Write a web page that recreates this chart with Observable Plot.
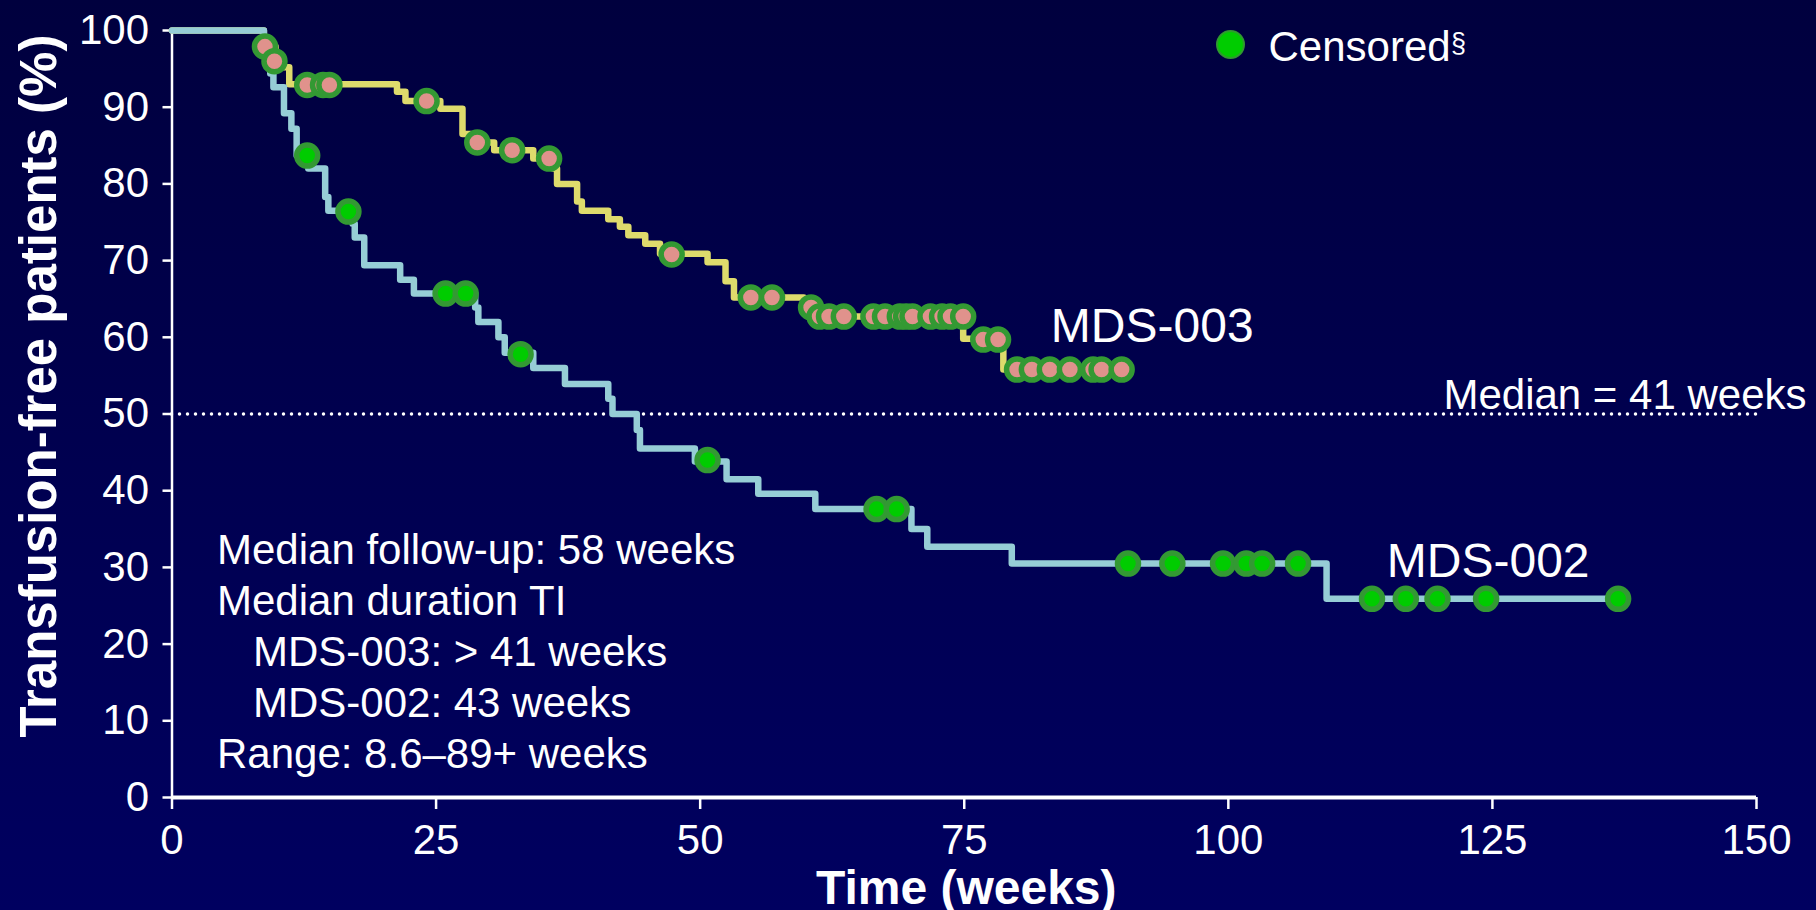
<!DOCTYPE html>
<html>
<head>
<meta charset="utf-8">
<script src="https://cdn.jsdelivr.net/npm/d3@7"></script>
<script src="https://cdn.jsdelivr.net/npm/@observablehq/plot@0.6"></script>
<style>
  html, body { margin: 0; padding: 0; overflow: hidden; background: #000050; }
  #chart svg { display: block; }
</style>
</head>
<body>
<div id="chart"></div>
<script>
// ---- Data ----
// MDS-003 Kaplan–Meier steps (weeks, % transfusion-free)
const weeks003 = [0, 8.7, 9.8, 11.1, 21.3, 22.1, 25.4, 27.5, 28.3, 30.5, 34.2, 36.1, 36.45, 38.35, 38.8, 41.3, 42.4, 43.2, 44.8, 46.2, 50.7, 52.4, 53.2, 59.8, 61.0, 74.9, 78.7, 89.9];
const pct003   = [100, 97.9, 95.2, 93.0, 92.0, 90.8, 89.8, 86.5, 85.4, 84.4, 83.3, 82.0, 80.0, 77.7, 76.5, 75.4, 74.4, 73.3, 72.2, 70.9, 69.8, 67.3, 65.2, 63.9, 62.7, 59.8, 55.8, 55.8];
// MDS-003 censored marks
const censWeeks003 = [8.8, 9.7, 12.8, 14.3, 14.9, 24.1, 28.9, 32.2, 35.7, 47.3, 54.8, 56.8, 60.5, 61.3, 62.2, 63.6, 66.4, 67.5, 68.9, 69.5, 70.1, 71.8, 72.9, 73.7, 74.9, 76.8, 78.2, 80.0, 81.4, 83.1, 85.0, 87.2, 88.0, 89.9];
const censPct003   = [97.9, 96.0, 92.9, 92.9, 92.9, 90.8, 85.4, 84.4, 83.3, 70.8, 65.2, 65.2, 63.9, 62.7, 62.7, 62.7, 62.7, 62.7, 62.7, 62.7, 62.7, 62.7, 62.7, 62.7, 62.7, 59.7, 59.7, 55.8, 55.8, 55.8, 55.8, 55.8, 55.8, 55.8];

// MDS-002 Kaplan–Meier steps
const weeks002 = [0, 8.7, 9.0, 9.3, 9.6, 10.6, 11.3, 11.8, 12.9, 14.5, 14.8, 17.1, 17.3, 18.2, 21.6, 22.9, 28.7, 29.0, 30.9, 31.5, 34.2, 37.2, 41.3, 41.7, 44.0, 44.3, 49.5, 52.5, 55.5, 60.9, 70.0, 71.5, 79.5, 109.3, 136.9];
const pct002   = [100, 98.1, 96.3, 94.4, 92.6, 89.2, 87.2, 83.7, 82.0, 78.3, 76.5, 74.8, 73.0, 69.4, 67.5, 65.7, 63.9, 62.0, 60.0, 58.0, 56.0, 53.9, 52.0, 50.0, 47.9, 45.5, 43.8, 41.5, 39.6, 37.6, 35.0, 32.7, 30.5, 25.9, 25.9];
// MDS-002 censored marks
const censWeeks002 = [12.8, 16.7, 25.9, 27.8, 33.0, 50.7, 66.7, 68.6, 90.5, 94.7, 99.5, 101.7, 103.2, 106.6, 113.6, 116.8, 119.8, 124.4, 136.9];
const censPct002   = [83.7, 76.4, 65.7, 65.7, 57.8, 44.0, 37.6, 37.6, 30.5, 30.5, 30.5, 30.5, 30.5, 30.5, 25.9, 25.9, 25.9, 25.9, 25.9];

// Axes
const xTicks = [0, 25, 50, 75, 100, 125, 150];
const yTicks = [0, 10, 20, 30, 40, 50, 60, 70, 80, 90, 100];
const xTitle = "Time (weeks)";
const yTitle = "Transfusion-free patients (%)";

// Labels / annotations
const seriesNames = ["MDS-003", "MDS-002"];
const seriesLabelWeek = [83.2, 115.0];
const seriesLabelPct = [59.4, 28.8];
const medianPct = 50;
const medianLabel = "Median = 41 weeks";
const legendLabel = "Censored";
const legendMark = "§";
const notes = ["Median follow-up: 58 weeks", "Median duration TI", "MDS-003: > 41 weeks", "MDS-002: 43 weeks", "Range: 8.6–89+ weeks"];
const noteIndent = [false, false, true, true, false];

// ---- Build tables ----
const toRows = (ws, ps) => ws.map((w, i) => ({week: w, pct: ps[i]}));
const km003 = toRows(weeks003, pct003);
const km002 = toRows(weeks002, pct002);
const c003 = toRows(censWeeks003, censPct003);
const c002 = toRows(censWeeks002, censPct002);
const labelRows = seriesNames.map((n, i) => ({name: n, week: seriesLabelWeek[i], pct: seriesLabelPct[i]}));

const W = 1816, H = 910;
const mL = 171.5, mR = 60, mT = 30, mB = 113;

const noteMarks = notes.map((t, i) =>
  Plot.text([t], {frameAnchor: "top-left", text: d => d, textAnchor: "start", lineAnchor: "bottom",
    dx: noteIndent[i] ? 81 : 45, dy: 533 + i * 51.2, fontSize: 42, fill: "white"})
);

const chart = Plot.plot({
  width: W,
  height: H,
  marginLeft: mL,
  marginRight: mR,
  marginTop: mT,
  marginBottom: mB,
  x: {domain: [0, 150]},
  y: {domain: [0, 100]},
  style: {
    background: "linear-gradient(to bottom, #00003e 0%, #00004e 45%, #000060 100%)",
    color: "white",
    fontFamily: "'Liberation Sans', Arial, sans-serif",
    fontSize: "42px"
  },
  marks: [
    // median dotted line
    Plot.ruleY([medianPct], {stroke: "white", strokeWidth: 3.5, strokeDasharray: "0 8", strokeLinecap: "round"}),
    // axes
    Plot.axisX({ticks: xTicks, tickSize: 12, tickPadding: 15, label: null, strokeWidth: 2.5, fontSize: 42}),
    Plot.axisY({ticks: yTicks, tickSize: 9, tickPadding: 14, label: null, strokeWidth: 2.5, fontSize: 42}),
    Plot.ruleX([0], {stroke: "white", strokeWidth: 2.5}),
    Plot.ruleY([0], {stroke: "white", strokeWidth: 4}),
    // KM curves
    Plot.line(km003, {x: "week", y: "pct", curve: "step-after", stroke: "#dedb6c", strokeWidth: 6.5}),
    Plot.line(km002, {x: "week", y: "pct", curve: "step-after", stroke: "#96cdd6", strokeWidth: 6.5}),
    // censored marks
    Plot.dot(c003, {x: "week", y: "pct", r: 10.5, fill: "#e0928c", stroke: "#339933", strokeWidth: 5.5}),
    Plot.dot(c002, {x: "week", y: "pct", r: 10.5, fill: "#00cc00", stroke: "#339933", strokeWidth: 5.5}),
    // series labels
    Plot.text(labelRows, {x: "week", y: "pct", text: "name", textAnchor: "start", lineAnchor: "bottom", fontSize: 48, fill: "white"}),
    // median label
    Plot.text([medianLabel], {x: 150, y: medianPct, text: d => d, textAnchor: "end", lineAnchor: "bottom", dx: 50, dy: -5, fontSize: 42, fill: "white"}),
    // notes block
    ...noteMarks,
    // legend
    Plot.dot([legendLabel], {frameAnchor: "top-left", dx: 1058.5, dy: 14, r: 13.5, fill: "#00cc00", stroke: "#2f9a2f", strokeWidth: 2}),
    Plot.text([legendLabel], {frameAnchor: "top-left", text: d => d, dx: 1096.5, dy: 30, textAnchor: "start", lineAnchor: "bottom", fontSize: 42, fill: "white"}),
    Plot.text([legendMark], {frameAnchor: "top-left", text: d => d, dx: 1279, dy: 21, textAnchor: "start", lineAnchor: "bottom", fontSize: 27, fill: "white"}),
    // axis titles
    Plot.text([yTitle], {frameAnchor: "left", text: d => d, rotate: -90, dx: -116, dy: -28, lineAnchor: "bottom", textAnchor: "middle", fontSize: 51, fontWeight: "bold", fill: "white"}),
    Plot.text([xTitle], {frameAnchor: "bottom", text: d => d, dx: 2, dy: 106, lineAnchor: "bottom", textAnchor: "middle", fontSize: 48, fontWeight: "bold", fill: "white"})
  ]
});
document.getElementById("chart").appendChild(chart);
</script>
</body>
</html>
